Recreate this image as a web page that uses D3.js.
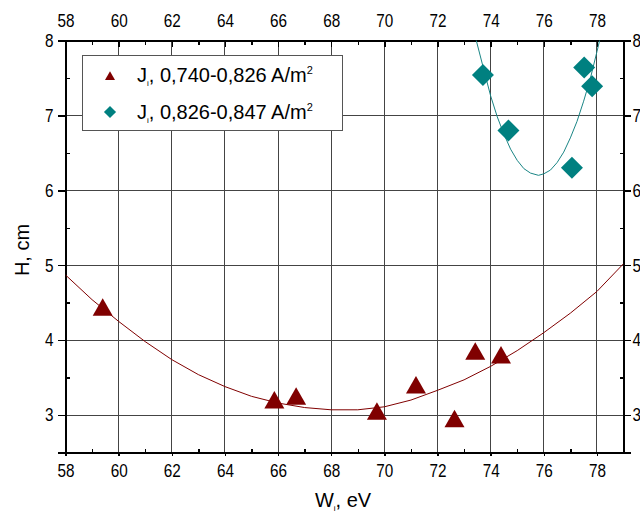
<!DOCTYPE html>
<html>
<head>
<meta charset="utf-8">
<script src="https://cdn.jsdelivr.net/npm/d3@7"></script>
<style>
  body { margin: 0; background: #fff; }
  svg text { font-family: "Liberation Sans", Arial, sans-serif; fill: #000; }
</style>
</head>
<body>
<svg id="chart" width="640" height="514"></svg>
<script>
// series 1: J_i 0,740-0,826 A/m2 (triangles)
const w1 = [59.4, 65.86, 66.68, 69.72, 71.19, 72.64, 73.42, 74.39]
const h1 = [4.44, 3.2, 3.25, 3.05, 3.4, 2.95, 3.85, 3.8]
// series 2: J_i 0,826-0,847 A/m2 (diamonds)
const w2 = [73.71, 74.67, 77.06, 77.52, 77.82]
const h2 = [7.54, 6.8, 6.3, 7.64, 7.39]
// fit curves
const fit1W = [58, 59, 60, 61, 62, 63, 64, 65, 66, 67, 68, 69, 70, 71, 72, 73, 74, 75, 76, 77, 78, 79]
const fit1H = [4.87, 4.54, 4.25, 3.98, 3.74, 3.54, 3.38, 3.25, 3.16, 3.1, 3.07, 3.07, 3.11, 3.2, 3.33, 3.47, 3.65, 3.86, 4.1, 4.36, 4.65, 5.02]
const fit2W = [73.3, 73.46, 73.75, 74, 74.25, 74.5, 74.75, 75, 75.25, 75.5, 75.8, 76, 76.25, 76.5, 76.75, 77, 77.25, 77.5, 77.75, 78, 78.1, 78.25]
const fit2H = [8.25, 8, 7.6, 7.26, 6.98, 6.75, 6.55, 6.4, 6.29, 6.23, 6.2, 6.22, 6.27, 6.37, 6.51, 6.7, 6.92, 7.19, 7.49, 7.85, 8, 8.25]
const xTicks = [58, 60, 62, 64, 66, 68, 70, 72, 74, 76, 78]
const yTicks = [3, 4, 5, 6, 7, 8]
const labels = ["0,740-0,826 A/m", "0,826-0,847 A/m"]

const red = "#800000", teal = "#008080"
const svg = d3.select('#chart')
const x = d3.scaleLinear().domain([58, 79]).range([65.5, 623.5])
const y = d3.scaleLinear().domain([2.5, 8]).range([452.5, 40.5])

svg.append('clipPath').attr('id', 'clip')
    .append('rect')
    .attr('x', x(58)).attr('y', y(8))
    .attr('width', x(79) - x(58)).attr('height', y(2.5) - y(8))

// grid
const grid = svg.append('g').attr('shape-rendering', 'crispEdges')
grid.selectAll('.vg').data(xTicks.slice(1)).join('line')
    .attr('x1', d => x(d)).attr('x2', d => x(d))
    .attr('y1', y(8)).attr('y2', y(2.5))
    .attr('stroke', '#444').attr('stroke-width', 1)
grid.selectAll('.hg').data(yTicks.slice(0, -1)).join('line')
    .attr('y1', d => y(d)).attr('y2', d => y(d))
    .attr('x1', x(58)).attr('x2', x(79))
    .attr('stroke', '#444').attr('stroke-width', 1)

// axes
const minorX = d3.range(59, 79, 2)
const minorY = [3.5, 4.5, 5.5, 6.5, 7.5]
const fmt = d3.format('d')
const axBottom = svg.append('g').attr('transform', `translate(0,${y(2.5)})`)
    .call(d3.axisBottom(x).tickValues(xTicks).tickFormat(fmt).tickSize(-4).tickPadding(12))
const axTop = svg.append('g').attr('transform', `translate(0,${y(8)})`)
    .call(d3.axisTop(x).tickValues(xTicks).tickFormat(fmt).tickSize(-6).tickPadding(13.5))
const axLeft = svg.append('g').attr('transform', `translate(${x(58)},0)`)
    .call(d3.axisLeft(y).tickValues(yTicks).tickFormat(fmt).tickSize(8).tickPadding(4))
const axRight = svg.append('g').attr('transform', `translate(${x(79)},0)`)
    .call(d3.axisRight(y).tickValues(yTicks).tickFormat(fmt).tickSize(7).tickPadding(3))
axBottom.selectAll('.tick line').attr('y1', 3).attr('y2', -1)
const axes = [axBottom, axTop, axLeft, axRight]
axes.forEach(a => {
    a.attr('shape-rendering', 'crispEdges')
    a.select('.domain').attr('stroke', '#000').attr('stroke-width', 2)
    a.selectAll('.tick line').attr('stroke', '#000')
    a.selectAll('.tick text').style('font-size', '18px')
})
// narrow digits like the original
axBottom.selectAll('.tick text').attr('transform', 'scale(0.85,1)')
axTop.selectAll('.tick text').attr('transform', 'scale(0.85,1)')
axLeft.selectAll('.tick text').attr('x', 0).attr('transform', 'translate(-12,0) scale(0.85,1)')
axRight.selectAll('.tick text').attr('x', 0).attr('transform', 'translate(9,0) scale(0.85,1)')

svg.append('g').attr('transform', `translate(0,${y(2.5)})`)
    .call(d3.axisBottom(x).tickValues(minorX).tickSize(-4).tickFormat(''))
    .call(g => g.select('.domain').remove())
svg.append('g').attr('transform', `translate(0,${y(8)})`)
    .call(d3.axisTop(x).tickValues(minorX).tickSize(-4).tickFormat(''))
    .call(g => g.select('.domain').remove())
svg.append('g').attr('transform', `translate(${x(58)},0)`)
    .call(d3.axisLeft(y).tickValues(minorY).tickSize(-4).tickFormat(''))
    .call(g => g.select('.domain').remove())
svg.append('g').attr('transform', `translate(${x(79)},0)`)
    .call(d3.axisRight(y).tickValues(minorY).tickSize(-4).tickFormat(''))
    .call(g => g.select('.domain').remove())
svg.selectAll('.tick line').attr('stroke-width', 1.5).attr('shape-rendering', 'crispEdges')

// fit curves
const plot = svg.append('g').attr('clip-path', 'url(#clip)')
const line = d3.line().x(d => x(d[0])).y(d => y(d[1]))
plot.append('path').datum(d3.zip(fit1W, fit1H))
    .attr('d', line).attr('fill', 'none').attr('stroke', red).attr('stroke-width', 1)
plot.append('path').datum(d3.zip(fit2W, fit2H))
    .attr('d', line).attr('fill', 'none').attr('stroke', '#1a8585').attr('stroke-width', 1)

// markers
const tri = 'M0,-9.5L10,8L-10,8Z'
const dia = 'M0,-11L11,0L0,11L-11,0Z'
svg.append('g').selectAll('path').data(d3.zip(w1, h1)).join('path')
    .attr('transform', d => `translate(${x(d[0])},${y(d[1]) + 0.5})`)
    .attr('d', tri).attr('fill', red)
svg.append('g').selectAll('path').data(d3.zip(w2, h2)).join('path')
    .attr('transform', d => `translate(${x(d[0])},${y(d[1])})`)
    .attr('d', dia).attr('fill', teal)

// legend
svg.append('rect').attr('x', 82.5).attr('y', 55.5).attr('width', 260).attr('height', 75)
    .attr('fill', '#fff').attr('stroke', '#555').attr('stroke-width', 1)
svg.append('path').attr('transform', 'translate(110,76) scale(0.5)').attr('d', tri).attr('fill', red)
svg.append('path').attr('transform', 'translate(110,112) scale(0.55)').attr('d', dia).attr('fill', teal)
const leg = svg.append('g').selectAll('text').data(labels).join('text')
    .attr('x', 137).attr('y', (d, i) => 82 + i * 36.5)
    .style('font-size', '20px')
leg.append('tspan').text('J')
leg.append('tspan').text('i').attr('dy', 4).style('font-size', '8px')
leg.append('tspan').text(', ').attr('dy', -4)
leg.append('tspan').text(d => d)
leg.append('tspan').text('2').attr('dy', -8).style('font-size', '11px')

// axis titles
const xt = svg.append('text').attr('x', 343).attr('y', 507).attr('text-anchor', 'middle')
    .style('font-size', '20px')
xt.append('tspan').text('W')
xt.append('tspan').text('i').attr('dy', 4).style('font-size', '8px')
xt.append('tspan').text(', eV').attr('dy', -4)
svg.append('text').attr('transform', 'translate(29,250) rotate(-90)')
    .attr('text-anchor', 'middle').style('font-size', '20px').text('H, cm')
</script>
</body>
</html>
